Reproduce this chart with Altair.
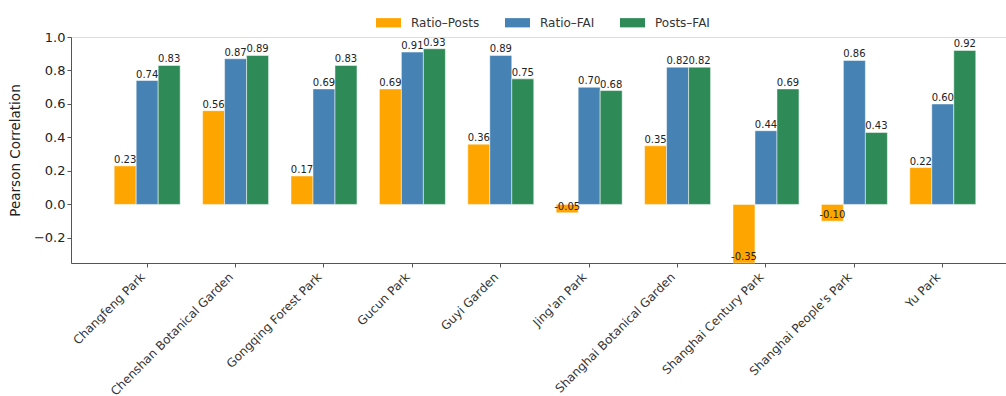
import altair as alt
import pandas as pd

parks = [
    "Changfeng Park", "Chenshan Botanical Garden", "Gongqing Forest Park",
    "Gucun Park", "Guyi Garden", "Jing'an Park", "Shanghai Botanical Garden",
    "Shanghai Century Park", "Shanghai People's Park", "Yu Park",
]
series = ["Ratio–Posts", "Ratio–FAI", "Posts–FAI"]
colors = ["#FFA500", "#4682B4", "#2E8B57"]

ratio_posts = [0.23, 0.56, 0.17, 0.69, 0.36, -0.05, 0.35, -0.35, -0.10, 0.22]
ratio_fai = [0.74, 0.87, 0.69, 0.91, 0.89, 0.70, 0.82, 0.44, 0.86, 0.60]
posts_fai = [0.83, 0.89, 0.83, 0.93, 0.75, 0.68, 0.82, 0.69, 0.43, 0.92]

y_ticks = [-0.2, 0.0, 0.2, 0.4, 0.6, 0.8, 1.0]

rows = []
for name, vals in zip(series, [ratio_posts, ratio_fai, posts_fai]):
    for park, v in zip(parks, vals):
        rows.append({"park": park, "pair": name, "r": v, "label": f"{v:.2f}"})
df = pd.DataFrame(rows)

FONT = "DejaVu Sans"

base = alt.Chart(df).encode(
    x=alt.X(
        "park:N", sort=parks, title=None,
        scale=alt.Scale(paddingInner=0, paddingOuter=0.2885, align=0.627),
        axis=alt.Axis(labelAngle=-45, labelAlign="right", labelBaseline="top",
                      labelFontSize=12, labelColor="#333333", labelPadding=4,
                      labelOffset=-8, tickSize=4, tickColor="#555555",
                      domainColor="#555555", labelFont=FONT,
                      labelOverlap=False, labelLimit=300),
    ),
    xOffset=alt.XOffset("pair:N", sort=series,
                        scale=alt.Scale(paddingInner=0, paddingOuter=0.509)),
    y=alt.Y(
        "r:Q", title="Pearson Correlation",
        scale=alt.Scale(domain=[-0.35, 1.0], nice=False, zero=False),
        axis=alt.Axis(values=y_ticks, format=".1f", grid=False, labelOverlap=False,
                      labelFontSize=13, labelColor="#222222", labelFont=FONT,
                      tickSize=4, tickColor="#555555", domainColor="#555555",
                      titleFontSize=13.5, titleFontWeight="normal",
                      titleColor="#222222", titleFont=FONT, titleX=-56,
                      titleY=113, titleAngle=-90, titleAlign="center",
                      titleBaseline="middle"),
    ),
)

bars = base.mark_bar(stroke="white", strokeWidth=0.5).encode(
    color=alt.Color(
        "pair:N", sort=series,
        scale=alt.Scale(domain=series, range=colors),
        legend=alt.Legend(
            title=None, orient="none", direction="horizontal",
            legendX=305, legendY=-27,
            symbolType="M-1,-0.37L1,-0.37L1,0.37L-1,0.37Z", symbolSize=625,
            symbolStrokeWidth=0, labelFontSize=12, labelFont=FONT,
            labelColor="#333333", labelOffset=10, columnPadding=25,
        ),
    ),
)

labels = base.mark_text(
    baseline="bottom", dy=-1, fontSize=10, font=FONT, color="#222222"
).encode(text="label:N")

chart = (
    alt.layer(bars, labels)
    .properties(width=935, height=226,
                padding={"left": 71, "top": 37, "right": 0, "bottom": 133},
                autosize=alt.AutoSizeParams(type="none"))
    .configure_view(strokeWidth=0, stroke="transparent")
    .configure_axis(grid=False)
    .configure(font=FONT)
)

chart.save("out.html", embed_options={"renderer": "svg", "actions": False})
